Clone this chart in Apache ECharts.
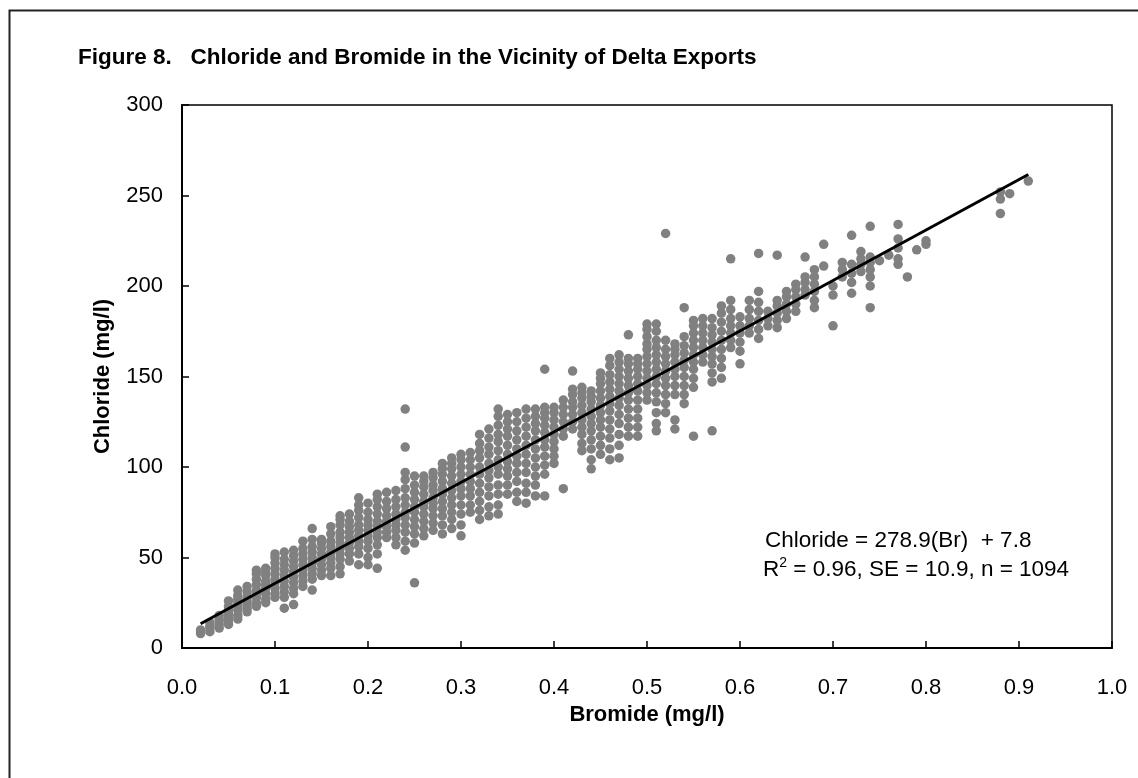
<!DOCTYPE html>
<html>
<head>
<meta charset="utf-8">
<script src="https://cdn.jsdelivr.net/npm/echarts@6/dist/echarts.min.js"></script>
<style>
html,body{margin:0;padding:0;background:#fff;}
#chart{width:1138px;height:778px;}
</style>
</head>
<body>
<div id="chart"></div>
<script>
// ---- data ----
const titleText = 'Figure 8.   Chloride and Bromide in the Vicinity of Delta Exports';
const xTitle = 'Bromide (mg/l)';
const yTitle = 'Chloride (mg/l)';
const xTicks = [0.0, 0.1, 0.2, 0.3, 0.4, 0.5, 0.6, 0.7, 0.8, 0.9, 1.0];
const yTicks = [0, 50, 100, 150, 200, 250, 300];
const fitSlope = 278.9;
const fitIntercept = 7.8;
const fitRange = [0.02, 0.91];
const statsLine1 = 'Chloride = 278.9(Br)  + 7.8';
const statsR2 = '0.96', statsSE = '10.9', statsN = '1094';

const bromideLevels = [
  0.02,0.03,0.04,0.05,0.06,0.07,0.08,0.09,0.10,0.11,0.12,0.13,0.14,0.15,0.16,0.17,0.18,0.19,0.20,
  0.21,0.22,0.23,0.24,0.25,0.26,0.27,0.28,0.29,0.30,0.31,0.32,0.33,0.34,0.35,0.36,0.37,0.38,0.39,0.40,
  0.41,0.42,0.43,0.44,0.45,0.46,0.47,0.48,0.49,0.50,0.51,0.52,0.53,0.54,0.55,0.56,0.57,0.58,0.59,0.60,
  0.61,0.62,0.63,0.64,0.65,0.66,0.67,0.68,0.69,0.70,0.71,0.72,0.73,0.74,0.75,0.76,0.77,0.78,0.79,0.80,
  0.88,0.89,0.91
];
const chlorideByLevel = [
  [8,9,10],
  [9,11,12,14],
  [11,13,15,16,18],
  [13,15,17,19,21,23,26],
  [16,18,21,23,25,27,29,32],
  [20,22,24,26,28,31,34],
  [23,25,28,30,32,35,38,41,43],
  [25,27,30,33,35,37,40,42,44],
  [28,30,33,36,38,41,44,47,50,52],
  [22,28,31,34,37,40,43,46,49,53],
  [24,30,33,36,39,42,45,48,51,54],
  [34,37,40,43,46,49,52,55,59],
  [32,38,41,44,47,50,53,56,60,66],
  [40,43,46,49,52,55,58,60],
  [40,44,47,50,53,56,59,63,67],
  [41,45,49,52,55,58,61,64,68,71,73],
  [48,52,55,58,61,64,67,70,74],
  [46,52,56,59,62,65,68,72,76,79,83],
  [46,50,55,59,62,65,68,71,75,80],
  [44,52,57,61,64,67,70,74,78,82,85],
  [61,64,67,70,73,77,81,86],
  [57,61,65,68,71,74,78,82,87],
  [54,59,64,68,72,75,79,83,88,93,97,111,132],
  [36,58,63,67,71,75,78,82,86,90,95],
  [62,66,70,74,78,81,85,89,92,95],
  [65,69,73,77,80,83,87,90,94,97],
  [63,68,73,77,81,85,88,92,96,99,102],
  [66,71,75,79,83,87,91,95,99,102,105],
  [62,68,74,79,84,88,92,96,100,104,107],
  [75,79,84,88,92,96,100,104,108],
  [71,76,81,86,91,96,100,105,109,113,118],
  [73,78,84,89,94,98,102,107,111,116,121],
  [74,79,85,90,96,100,104,109,114,118,123,128,132],
  [85,90,95,99,103,107,112,117,121,125,129],
  [81,86,92,97,102,106,110,115,120,125,130],
  [80,86,91,97,102,107,112,117,122,127,132],
  [84,90,95,100,105,110,115,120,124,128,132],
  [84,96,101,106,111,115,119,123,127,130,133,154],
  [102,106,110,114,118,122,126,130,133],
  [88,117,121,125,129,133,137],
  [121,125,129,133,136,140,143,153],
  [109,113,118,122,126,130,134,138,141,144],
  [99,104,110,115,120,124,128,132,136,139,142],
  [107,112,117,122,126,130,134,138,142,146,149,152],
  [104,110,116,121,126,131,135,139,143,147,151,156,160],
  [105,112,118,124,129,134,138,142,146,150,154,158,162],
  [117,122,127,132,137,141,145,149,153,157,160,173],
  [117,122,127,132,137,142,146,150,154,157,160],
  [137,141,145,149,153,157,161,165,168,172,176,179],
  [120,124,130,136,141,146,150,154,158,162,166,170,175,179],
  [130,135,140,145,149,153,157,161,165,170,229],
  [121,126,140,145,150,154,158,162,165,168],
  [135,140,145,150,155,159,163,167,172,188],
  [117,144,149,154,158,162,166,170,174,178,181],
  [158,162,166,170,174,178,182],
  [120,147,152,157,161,165,169,173,177,182],
  [149,155,160,165,170,175,180,185,189],
  [166,170,174,178,182,187,192,215],
  [157,164,169,174,178,183],
  [174,178,182,187,192],
  [171,176,181,186,191,197,218],
  [178,182,186],
  [177,181,185,189,192,217],
  [182,186,190,194,197],
  [186,190,194,198,201],
  [195,198,202,205,216],
  [188,192,197,201,205,209],
  [211,223],
  [178,195,200],
  [205,209,213],
  [196,202,207,212,228],
  [208,212,215,219],
  [188,200,205,209,213,216,233],
  [214],
  [217],
  [212,215,221,226,234],
  [205],
  [220],
  [223,225],
  [240,248,252],
  [251],
  [258]
];

// ---- build series data ----
const scatterData = [];
bromideLevels.forEach((br, i) => {
  chlorideByLevel[i].forEach(cl => scatterData.push([br, cl]));
});
const fitData = fitRange.map(x => [x, fitSlope * x + fitIntercept]);

const FONT = '"Liberation Sans", Arial, Helvetica, sans-serif';
const chart = echarts.init(document.getElementById('chart'), null, {renderer: 'canvas'});

chart.setOption({
  animation: false,
  backgroundColor: '#ffffff',
  grid: {
    left: 182, right: 26, top: 105, bottom: 130,
    show: true, borderColor: '#000', borderWidth: 1.5, backgroundColor: 'transparent'
  },
  xAxis: {
    type: 'value',
    min: xTicks[0], max: xTicks[xTicks.length - 1], interval: 0.1,
    name: xTitle, nameLocation: 'middle', nameGap: 55,
    nameTextStyle: {fontFamily: FONT, fontSize: 22, fontWeight: 'bold', color: '#000'},
    axisLine: {show: true, onZero: false, lineStyle: {color: '#000', width: 2}},
    axisTick: {show: true, inside: true, length: 7, lineStyle: {color: '#000', width: 1.5}},
    axisLabel: {fontFamily: FONT, fontSize: 22, color: '#000', margin: 29,
      formatter: v => v.toFixed(1)},
    splitLine: {show: false}
  },
  yAxis: {
    type: 'value',
    min: yTicks[0], max: yTicks[yTicks.length - 1], interval: 50,
    name: yTitle, nameLocation: 'middle', nameGap: 68,
    nameTextStyle: {fontFamily: FONT, fontSize: 22, fontWeight: 'bold', color: '#000'},
    axisLine: {show: true, onZero: false, lineStyle: {color: '#000', width: 2}},
    axisTick: {show: true, inside: true, length: 7, lineStyle: {color: '#000', width: 1.5}},
    axisLabel: {fontFamily: FONT, fontSize: 22, color: '#000', margin: 19},
    splitLine: {show: false}
  },
  series: [
    {
      type: 'scatter',
      data: scatterData,
      symbol: 'circle',
      symbolSize: 9.5,
      itemStyle: {color: '#808080', opacity: 1},
      z: 2
    },
    {
      type: 'line',
      data: fitData,
      showSymbol: false,
      symbol: 'none',
      lineStyle: {color: '#000', width: 3},
      z: 3
    }
  ],
  graphic: [
    {
      type: 'rect', left: 7, top: 8, silent: true,
      shape: {width: 1300, height: 900},
      style: {fill: 'none', stroke: '#222', lineWidth: 2}
    },
    {
      type: 'text', left: 78, top: 46,
      style: {text: titleText, fontFamily: FONT, fontSize: 22.5, fontWeight: 'bold', fill: '#000'}
    },
    {
      type: 'text', left: 765, top: 529,
      style: {text: statsLine1, fontFamily: FONT, fontSize: 22.5, fill: '#000'}
    },
    {
      type: 'text', left: 763, top: 556,
      style: {
        text: '{n|R}{s|2}{n| = ' + statsR2 + ', SE = ' + statsSE + ', n = ' + statsN + '}',
        fontFamily: FONT, fill: '#000',
        rich: {
          n: {fontFamily: FONT, fontSize: 22.5, lineHeight: 27, fill: '#000'},
          s: {fontFamily: FONT, fontSize: 14, lineHeight: 27, verticalAlign: 'top', fill: '#000'}
        }
      }
    }
  ]
});
</script>
</body>
</html>
